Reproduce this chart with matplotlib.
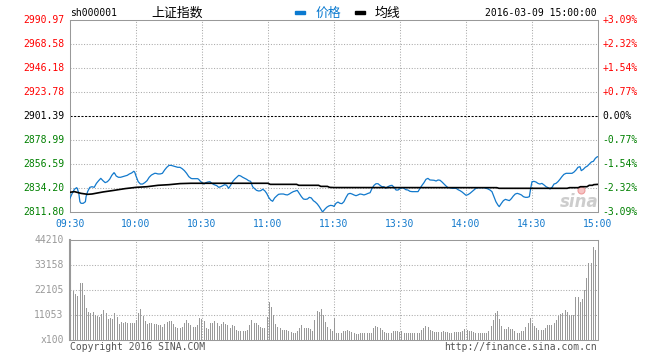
import matplotlib

matplotlib.use("Agg")
import matplotlib.pyplot as plt
import numpy as np

W, H = 660, 360

code = "sh000001"
name = "上证指数"
stamp = "2016-03-09 15:00:00"
legend_labels = ["价格", "均线"]
prev_close = 2901.39
price_ticks = [2990.97, 2968.58, 2946.18, 2923.78, 2901.39, 2878.99, 2856.59, 2834.20, 2811.80]
pct_ticks = ["+3.09%", "+2.32%", "+1.54%", "+0.77%", "0.00%", "-0.77%", "-1.54%", "-2.32%", "-3.09%"]
time_pos = [0, 30, 60, 90, 120, 150, 180, 210, 240]
time_labels = ["09:30", "10:00", "10:30", "11:00", "11:30", "13:30", "14:00", "14:30", "15:00"]
vol_ticks = [44210, 33158, 22105, 11053]

# price as (minute index, price)
price_am1 = [(0, 2824.6), (1, 2829.2), (2, 2833.0), (3, 2834.5), (3.3, 2833.9), (4, 2829.2), (4.5, 2821.4),
             (5, 2819.9), (6, 2819.9), (7, 2821.4), (7.3, 2826.1), (8, 2830.8), (9, 2834.8), (10, 2835.4),
             (11, 2834.8), (12, 2838.5), (13, 2841.0), (14, 2843.2), (15, 2841.0), (16, 2839.2), (17, 2840.1),
             (18, 2842.3), (19, 2846.0), (20, 2848.5), (20.3, 2847.9), (21, 2845.4), (22, 2844.2), (23, 2844.2),
             (24, 2844.8), (25, 2845.4), (26, 2846.0), (27, 2847.3), (28, 2848.2), (29, 2849.8), (29.4, 2849.1),
             (30, 2845.4), (31, 2840.1), (32, 2837.9), (33, 2837.9), (34, 2839.2), (35, 2841.0), (36, 2844.2),
             (37, 2846.3), (38, 2847.3), (38.5, 2847.9), (39, 2847.9), (40, 2847.3), (41, 2847.3), (42, 2847.9),
             (43, 2851.0), (44, 2853.5), (45, 2855.3), (46, 2855.3), (47, 2854.7), (48, 2854.1), (49, 2853.5),
             (50, 2853.5), (51, 2852.2), (52, 2850.4), (53, 2847.9), (54, 2844.8), (55, 2843.2), (55.5, 2842.9),
             (57, 2842.9), (58, 2842.9), (58.5, 2842.3), (59, 2841.0)]
price_am2 = [(60, 2839.2), (60.9, 2837.9), (61.8, 2839.2), (62.7, 2839.8), (63.6, 2840.1), (64.5, 2838.5),
             (65.5, 2837.3), (66.7, 2836.4), (67.6, 2834.8), (68.5, 2835.4), (69.4, 2836.4), (70.3, 2837.3),
             (71.2, 2836.7), (72.1, 2833.9), (73, 2836.7), (73.9, 2840.1), (74.8, 2842.3), (75.8, 2844.2),
             (76.7, 2846.0), (77.6, 2845.4), (78.5, 2844.2), (79.4, 2843.2), (80.3, 2842.3), (81.2, 2841.0),
             (82.1, 2840.4), (83, 2835.4), (83.9, 2833.6), (84.8, 2832.0), (85.8, 2831.4), (86.7, 2831.7),
             (87.6, 2833.0), (88.5, 2831.7), (89.4, 2829.2), (90.3, 2825.5), (91.2, 2823.0), (92.1, 2821.8),
             (93, 2824.9), (93.9, 2826.7), (94.8, 2828.3), (95.8, 2828.6), (97, 2828.6), (97.9, 2828.0),
             (98.8, 2827.7), (99.7, 2828.6), (100.6, 2829.8), (101.5, 2830.8), (102.4, 2831.4), (103.3, 2832.0),
             (104.2, 2829.2), (105.2, 2826.1), (106.1, 2823.9), (107, 2823.6), (107.9, 2823.9), (108.8, 2825.5),
             (109.7, 2824.9), (110.6, 2822.4), (111.5, 2821.1), (112.4, 2819.3), (113.3, 2816.8), (114.2, 2813.7),
             (114.8, 2811.8), (115.8, 2814.3), (116.7, 2816.2), (117.6, 2817.4), (118.5, 2818.0), (119.4, 2817.7),
             (120, 2817.0)]
price_pm1 = [(120.9, 2819.9), (121.8, 2821.1), (122.7, 2819.9), (123.6, 2819.6), (124.5, 2821.4), (125.5, 2825.5),
             (126.4, 2828.6), (127.3, 2829.2), (128.2, 2828.6), (129.1, 2827.7), (130, 2827.0), (130.9, 2827.7),
             (131.8, 2828.6), (132.7, 2828.3), (133.6, 2827.7), (134.5, 2828.3), (135.5, 2829.2), (136.4, 2829.8),
             (137.3, 2833.9), (138.2, 2836.7), (139.1, 2838.2), (140, 2838.2), (140.9, 2836.7), (141.8, 2835.4),
             (142.7, 2835.4), (143.6, 2833.9), (144.5, 2835.4), (145.5, 2836.4), (146.4, 2836.7), (147.3, 2834.8),
             (148.2, 2832.3), (149.1, 2832.3), (150, 2833.6), (150.9, 2834.5), (151.8, 2833.9), (152.7, 2832.6),
             (153.6, 2832.3), (154.5, 2831.1), (155.5, 2830.8), (158.2, 2830.8), (159.1, 2833.9), (160, 2836.7),
             (160.9, 2839.2), (161.8, 2842.3), (162.7, 2843.2), (163.6, 2841.7), (165.5, 2841.4), (166.4, 2840.7),
             (167.3, 2841.7), (168.2, 2841.4), (169.1, 2839.8), (170, 2837.9), (170.9, 2836.1), (171.8, 2834.5),
             (172.7, 2834.5), (173.6, 2833.9), (175.5, 2833.9), (176.4, 2832.6), (177.3, 2831.7), (178.2, 2830.5),
             (179.1, 2828.9), (180, 2827.4)]
price_pm2 = [(180.9, 2828.0), (181.8, 2829.2), (182.7, 2830.8), (183.6, 2832.3), (184.5, 2833.9), (185.5, 2834.5),
             (188.2, 2834.5), (189.1, 2833.9), (190, 2833.3), (190.9, 2832.3), (191.8, 2830.8), (192.7, 2826.1),
             (193.6, 2821.4), (194.5, 2818.3), (195.1, 2816.8), (196.1, 2819.9), (197, 2822.4), (197.9, 2823.6),
             (198.8, 2823.0), (199.7, 2822.4), (200.6, 2824.2), (201.5, 2826.7), (202.4, 2828.6), (203.3, 2829.2),
             (204.2, 2828.6), (205.2, 2827.7), (206.1, 2826.1), (207, 2825.5), (207.9, 2825.5), (208.8, 2826.1),
             (209.4, 2833.9), (210, 2840.1), (210.9, 2840.4), (211.8, 2839.8), (212.7, 2838.5), (213.6, 2837.9),
             (214.5, 2838.5), (215.5, 2837.0), (216.4, 2835.4), (217.3, 2834.5), (218.2, 2833.3), (219.1, 2834.8),
             (220, 2837.9), (220.9, 2838.5), (221.8, 2840.1), (222.7, 2842.3), (223.6, 2844.8), (224.5, 2846.9),
             (225.5, 2847.9), (228.2, 2847.9), (229.1, 2849.1), (230, 2851.0), (230.9, 2853.5), (231.8, 2854.1),
             (232.4, 2850.4), (233.3, 2851.6), (234.2, 2853.5), (235.2, 2854.7), (236.1, 2856.6), (237, 2858.5),
             (237.9, 2859.1), (238.8, 2861.9), (239.7, 2863.4), (240, 2863.4)]
avg_line = [(0, 2830.2), (2, 2830.8), (5, 2829.2), (8, 2828.3), (10, 2828.6), (15, 2830.5), (20, 2832.0),
            (25, 2833.6), (30, 2834.8), (35, 2835.4), (40, 2836.7), (45, 2837.3), (50, 2838.3), (55, 2838.6),
            (90, 2838.6), (91, 2837.6), (103, 2837.6), (104, 2836.7), (113, 2836.7), (114, 2835.7), (117, 2835.7),
            (118, 2834.8), (120, 2834.6), (194, 2834.5), (195, 2833.9), (226, 2833.9), (227, 2834.5),
            (231, 2834.5), (232, 2835.4), (235, 2835.4), (236, 2836.7), (237.5, 2836.7), (238, 2837.3),
            (240, 2837.6)]

# per-minute volume (x100), 09:30 .. 15:00, one list per half hour
vol_0930 = [21700, 20200, 19500, 25000, 25000, 20000, 14100, 12400, 12100, 12400, 10900, 10600, 10300, 11300,
            13300, 11800, 9400, 9700, 9100, 11800, 10200, 7100, 8000, 7700, 8000, 7400, 7400, 7400, 7400, 8800,
            11800]
vol_1000 = [13700, 10600, 8300, 7100, 7500, 7500, 7100, 7100, 6500, 6800, 5900, 7100, 8000, 8500, 8300, 7100,
            5600, 5300, 5300, 5900, 7400, 8700, 7400, 6500, 5900, 5600, 6500, 9700, 9100, 8300]
vol_1030 = [5500, 5000, 7400, 7400, 8300, 7400, 6200, 7100, 8000, 7100, 6800, 5300, 6500, 6200, 4400, 3800,
            3800, 4100, 3800, 4400, 6500, 8800, 7400, 7400, 6500, 5600, 5300, 5300, 10200, 16800]
vol_1100 = [14700, 11000, 7100, 5900, 5300, 4400, 4400, 4400, 4100, 3500, 3200, 3200, 3800, 5300, 6800, 5300,
            5300, 5300, 5000, 4100, 8800, 12900, 12400, 13800, 10900, 7900, 5900, 4700, 4000, 9700]
vol_1300 = [3200, 3200, 3200, 4000, 4100, 4400, 4000, 3500, 2900, 2600, 2600, 3100, 2900, 2900, 3200, 3100,
            3200, 5300, 6200, 5600, 5300, 4400, 3500, 2900, 2900, 3200, 4100, 4100, 4100, 3500]
vol_1330 = [3800, 3200, 2900, 3200, 3200, 3200, 3200, 3200, 3200, 4400, 5300, 6200, 5800, 4400, 3800, 3500,
            3500, 3500, 3500, 3800, 3500, 3500, 3200, 3200, 3500, 3500, 3500, 3500, 3800, 5000]
vol_1400 = [4400, 4100, 3800, 3500, 2900, 2900, 2900, 2900, 2900, 2900, 3800, 6200, 8700, 12100, 12700, 9400,
            6200, 4700, 4700, 5600, 4900, 4900, 4100, 3200, 3200, 3800, 4100, 5900, 7400, 9700]
vol_1430 = [7400, 6200, 5300, 4400, 4400, 4400, 5300, 6500, 6800, 6800, 7400, 8800, 10600, 11500, 11800, 13300,
            12400, 10900, 10900, 10900, 19100, 19100, 17000, 18000, 22000, 27400, 34000, 34000, 41300, 39800]

RED, GREEN, BLUE, GREY = "#ff0000", "#008000", "#1279cc", "#999999"
MONO = ["DejaVu Sans Mono"]
CJK = ["Noto Sans CJK SC", "DejaVu Sans"]
GRID = dict(color="#aaaaaa", lw=0.75, ls=(0, (1, 1.6)))


def fx(px):
    return px / W


def fy(py):
    return 1 - py / H


def frame(ax, left_lw=0.75):
    for side, sp in ax.spines.items():
        sp.set_color(GREY)
        sp.set_linewidth(left_lw if side == "left" else 0.75)
    ax.set_xticks([])
    ax.set_yticks([])


fig = plt.figure(figsize=(W / 100, H / 100), dpi=100)

# price panel
ax = fig.add_axes([fx(70), fy(212), 528 / W, 192 / H])
ax.set_xlim(time_pos[0], time_pos[-1])
ax.set_ylim(price_ticks[-1], price_ticks[0])
frame(ax)
for k in range(1, 8):
    ax.plot([k / 8, k / 8], [0, 1], transform=ax.transAxes, **GRID)
for p in price_ticks[1:-1]:
    if p == prev_close:
        ax.axhline(p, color="black", lw=0.75, ls=(0, (2, 1.5)))
    else:
        ax.axhline(p, **GRID)

# watermark
ax.text(0.965, 0.05, "sina", transform=ax.transAxes, color="#cdcdcd", fontsize=12, fontweight="bold",
        style="italic", ha="center", va="center", zorder=2)
ax.plot([0.968], [0.115], transform=ax.transAxes, marker="o", ms=5, mfc="#f6c4c4", mec="#ee9a9a",
        mew=0.8, clip_on=False, zorder=2)

pm = np.array(price_am1 + price_am2 + price_pm1 + price_pm2)
ax.plot(pm[:, 0], pm[:, 1], color=BLUE, lw=0.9, zorder=3)
av = np.array(avg_line)
ax.plot(av[:, 0], av[:, 1], color="black", lw=1.2, zorder=4)

for p in price_ticks:
    c = RED if p > prev_close else (GREEN if p < prev_close else "black")
    ax.text(-0.011, p, f"{p:.2f}", transform=ax.get_yaxis_transform(), ha="right", va="center",
            fontsize=7, family=MONO, color=c, clip_on=False)
for p, lab in zip(price_ticks, pct_ticks):
    c = RED if p > prev_close else (GREEN if p < prev_close else "black")
    ax.text(1.009, p, lab, transform=ax.get_yaxis_transform(), ha="left", va="center", fontsize=7,
            family=MONO, color=c, clip_on=False)

for t, lab in zip(time_pos, time_labels):
    ax.text(t, -0.06, lab, transform=ax.get_xaxis_transform(), ha="center", va="center", fontsize=7,
            family=MONO, color=BLUE, clip_on=False)

# header
fig.text(fx(70), fy(13), code, ha="left", va="center", fontsize=7, family=MONO, color="black")
fig.text(fx(151), fy(13), name, ha="left", va="center", fontsize=9.3, family=CJK, color="black")
fig.patches.append(plt.Rectangle((fx(295), fy(14)), fx(10), 3 / H, transform=fig.transFigure, color="#0b7ad0"))
fig.text(fx(315), fy(13), legend_labels[0], ha="left", va="center", fontsize=9.3, family=CJK, color="#0b7ad0")
fig.patches.append(plt.Rectangle((fx(355), fy(14)), fx(10), 3 / H, transform=fig.transFigure, color="black"))
fig.text(fx(375), fy(13), legend_labels[1], ha="left", va="center", fontsize=9.3, family=CJK, color="black")
fig.text(fx(597), fy(13), stamp, ha="right", va="center", fontsize=7, family=MONO, color="black")

# volume panel
vol = np.array(vol_0930 + vol_1000 + vol_1030 + vol_1100 + vol_1300 + vol_1330 + vol_1400 + vol_1430)
idx = np.arange(len(vol))
axv = fig.add_axes([fx(70), fy(340), 528 / W, 100 / H])
axv.set_xlim(-1.4, len(vol) - 1 + 1.4)
axv.set_ylim(0, vol_ticks[0])
frame(axv, left_lw=1.5)
for k in range(1, 8):
    axv.plot([k / 8, k / 8], [0, 1], transform=axv.transAxes, **GRID)
for v in vol_ticks[1:]:
    axv.axhline(v, **GRID)
axv.vlines(idx, 0, vol, color=GREY, lw=0.55, antialiased=False, zorder=3)

for v in vol_ticks:
    axv.text(-0.012, v / vol_ticks[0], str(v), transform=axv.transAxes, ha="right", va="center",
             fontsize=7, family=MONO, color=GREY)
axv.text(-0.012, 0, "x100", transform=axv.transAxes, ha="right", va="center", fontsize=7, family=MONO,
         color=GREY)
fig.text(fx(70), fy(347), "Copyright 2016 SINA.COM", ha="left", va="center", fontsize=7, family=MONO,
         color="#555555")
fig.text(fx(597), fy(347), "http://finance.sina.com.cn", ha="right", va="center", fontsize=7, family=MONO,
         color="#555555")

fig.savefig("out.png", dpi=100)
